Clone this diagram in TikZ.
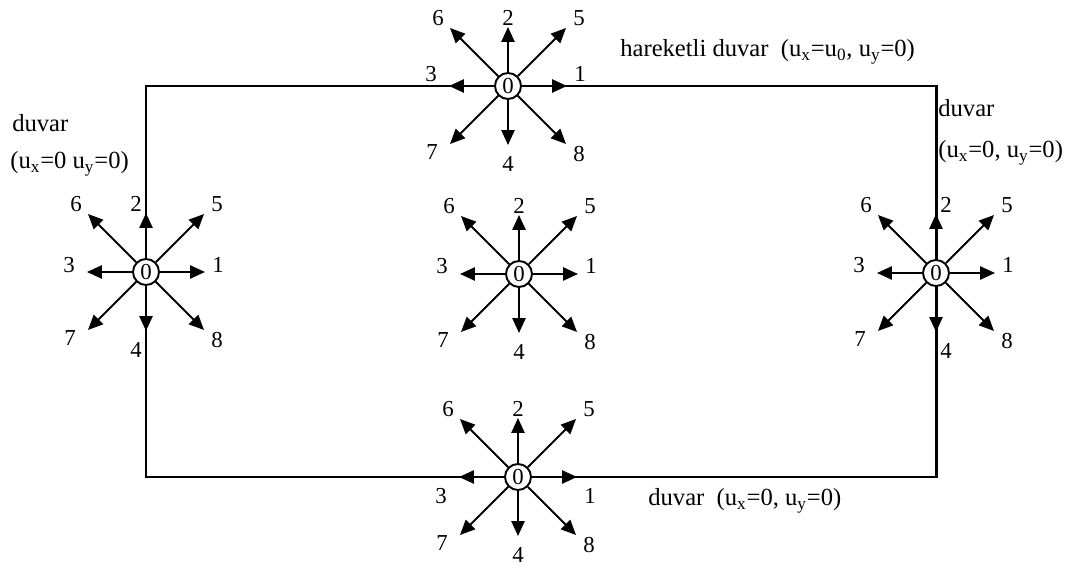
\documentclass[tikz,border=0pt]{standalone}
\usepackage{fontspec}
\setmainfont{Liberation Serif}
\usetikzlibrary{arrows.meta}
% one D2Q9 node: name, x, y, shift of labels 2/4, shift of labels 1/3
\newcommand{\dqstar}[5]{%
  \node[ctr] (#1) at (#2,#3) {0};
  \foreach \k/\dx/\dy in {1/59/0,2/0/-59,3/-59/0,4/0/59,5/58/-58,6/-58/-58,7/-58/58,8/58/58}
    {\coordinate (#1-\k) at ([shift={(\dx,\dy)}]#1);
     \draw[vec] (#1) -- (#1-\k);}
  \node[num] (#1-l1) at ([shift={(72,#5)}]#1) {1};
  \node[num] (#1-l2) at ([shift={(#4,-68)}]#1) {2};
  \node[num] (#1-l3) at ([shift={(-77,#5)}]#1) {3};
  \node[num] (#1-l4) at ([shift={(#4,78)}]#1) {4};
  \node[num] (#1-l5) at ([shift={(71,-68)}]#1) {5};
  \node[num] (#1-l6) at ([shift={(-70,-68)}]#1) {6};
  \node[num] (#1-l7) at ([shift={(-76,66)}]#1) {7};
  \node[num] (#1-l8) at ([shift={(71,68)}]#1) {8};
}

\begin{document}
\begin{tikzpicture}[x=0.02cm,y=-0.02cm,
  wall/.style={line width=1.7pt},
  vec/.style={line width=1.1pt,-{Triangle[length=8.5pt,width=7.5pt]}},
  ctr/.style={circle,draw,line width=1.1pt,fill=white,minimum size=0.52cm,inner sep=0pt,font=\fontsize{13}{15}\selectfont},
  num/.style={inner sep=0pt,font=\fontsize{13}{15}\selectfont},
  txt/.style={inner sep=0pt,anchor=west,font=\fontsize{14}{16}\selectfont}]
\useasboundingbox (0,0) rectangle (1072,570);
% cavity walls
\coordinate (nw) at (146,86);
\coordinate (ne) at (936,86);
\coordinate (se) at (936,477);
\coordinate (sw) at (146,477);
\draw[wall] (nw) -- (ne) -- (se) -- (sw) -- cycle;
% lattice nodes
\dqstar{top}{508}{86}{0}{-12}
\dqstar{lft}{146}{272}{-10}{-7}
\dqstar{mid}{519}{274}{0}{-8}
\dqstar{rgt}{936}{273}{10}{-8}
\dqstar{bot}{518}{477}{0}{19}
% boundary conditions
\node[txt] (bctop) at (620,52) {hareketli duvar\enspace(u\textsubscript{x}=u\textsubscript{0}, u\textsubscript{y}=0)};
\node[txt] (bclft1) at (12,123) {duvar};
\node[txt] (bclft2) at (10,164) {(u\textsubscript{x}=0 u\textsubscript{y}=0)};
\node[txt] (bcrgt1) at (938,108) {duvar};
\node[txt] (bcrgt2) at (938,153) {(u\textsubscript{x}=0, u\textsubscript{y}=0)};
\node[txt] (bcbot) at (648,501) {duvar\enspace(u\textsubscript{x}=0, u\textsubscript{y}=0)};
\end{tikzpicture}
\end{document}
